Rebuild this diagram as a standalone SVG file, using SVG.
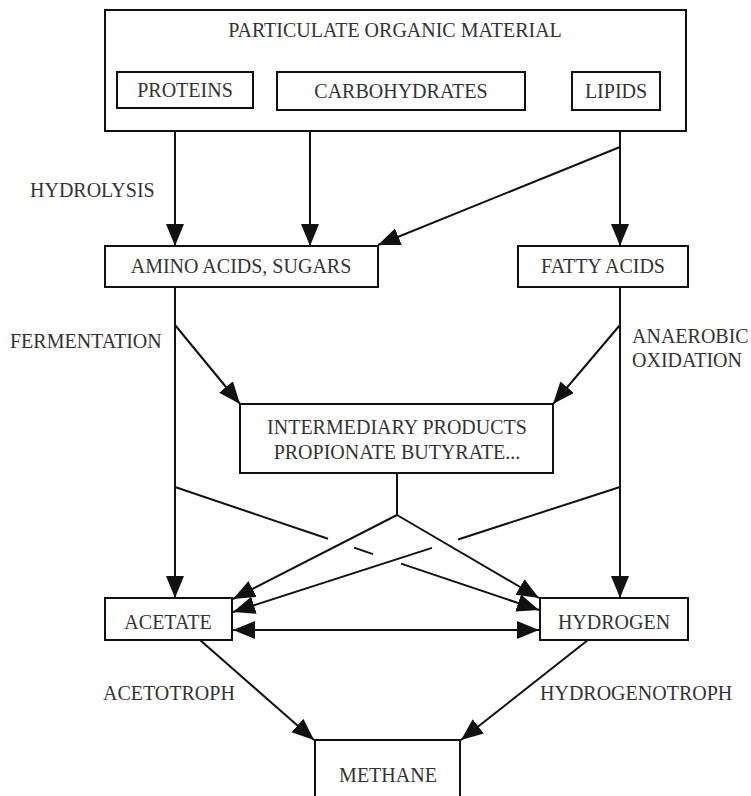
<svg xmlns="http://www.w3.org/2000/svg" width="751" height="796" viewBox="0 0 751 796">
<style>
.box{fill:#fff;stroke:#111;stroke-width:2}
.ln{fill:none;stroke:#111;stroke-width:2}
.ar{fill:none;stroke:#111;stroke-width:2;marker-end:url(#ah)}
text{font-family:"Liberation Serif","Times New Roman",serif;font-size:20px;fill:#333}
.c{text-anchor:middle}
</style>
<defs>
<marker id="ah" markerUnits="userSpaceOnUse" markerWidth="24" markerHeight="20" refX="22" refY="9" orient="auto-start-reverse" viewBox="0 0 24 20">
<path d="M0,0 L22,9 L0,18 z" fill="#111"/>
</marker>
</defs>
<rect width="751" height="796" fill="#fff"/>
<g id="connectors">
<line class="ar" x1="175" y1="108" x2="175" y2="246"/>
<line class="ar" x1="310" y1="110" x2="310" y2="246"/>
<line class="ar" x1="620" y1="110" x2="620" y2="246"/>
<line class="ar" x1="620" y1="147" x2="378" y2="245"/>
<line class="ar" x1="175" y1="287" x2="175" y2="598"/>
<line class="ar" x1="620" y1="287" x2="620" y2="598"/>
<line class="ar" x1="175" y1="325" x2="240" y2="404"/>
<line class="ar" x1="620" y1="325" x2="553" y2="404"/>
<polyline class="ln" points="397,473 397,515"/>
<line class="ar" x1="397" y1="515" x2="233" y2="599"/>
<line class="ar" x1="397" y1="515" x2="539" y2="598"/>
<line class="ln" x1="175" y1="487" x2="328" y2="538.8"/>
<line class="ln" x1="354" y1="547.6" x2="373" y2="554.1"/>
<line class="ar" x1="401" y1="563.6" x2="539" y2="610"/>
<line class="ln" x1="620" y1="487" x2="458" y2="539.5"/>
<line class="ar" x1="432" y1="547.9" x2="233" y2="612"/>
<line class="ar" x1="233" y1="630" x2="539" y2="630" marker-start="url(#ah)"/>
<line class="ar" x1="200" y1="640" x2="314" y2="740"/>
<line class="ar" x1="588" y1="640" x2="461" y2="740"/>
</g>
<g id="particulate"><rect class="box" x="105" y="10" width="581" height="121"/><text class="c" x="395" y="37">PARTICULATE ORGANIC MATERIAL</text></g>
<g id="proteins"><rect class="box" x="117" y="72" width="136" height="36"/><text class="c" x="185" y="97">PROTEINS</text></g>
<g id="carbohydrates"><rect class="box" x="277" y="72" width="248" height="38"/><text class="c" x="401" y="98">CARBOHYDRATES</text></g>
<g id="lipids"><rect class="box" x="572" y="72" width="88" height="38"/><text class="c" x="616" y="98">LIPIDS</text></g>
<g id="amino"><rect class="box" x="105" y="246" width="273" height="41"/><text class="c" x="241" y="273">AMINO ACIDS, SUGARS</text></g>
<g id="fatty"><rect class="box" x="518" y="246" width="170" height="41"/><text class="c" x="603" y="273">FATTY ACIDS</text></g>
<g id="intermediary"><rect class="box" x="240" y="404" width="313" height="69"/><text class="c" x="397" y="434">INTERMEDIARY PRODUCTS</text><text class="c" x="397" y="459">PROPIONATE BUTYRATE...</text></g>
<g id="acetate"><rect class="box" x="105" y="598" width="127" height="42"/><text class="c" x="168" y="629">ACETATE</text></g>
<g id="hydrogen"><rect class="box" x="540" y="598" width="148" height="42"/><text class="c" x="614" y="629">HYDROGEN</text></g>
<g id="methane"><rect class="box" x="315" y="740" width="145" height="70"/><text class="c" x="388" y="782">METHANE</text></g>
<g id="labels">
<text x="30" y="197">HYDROLYSIS</text>
<text x="10" y="348">FERMENTATION</text>
<text x="632" y="343">ANAEROBIC</text>
<text x="632" y="367">OXIDATION</text>
<text x="103" y="700">ACETOTROPH</text>
<text x="540" y="700">HYDROGENOTROPH</text>
</g>
</svg>
